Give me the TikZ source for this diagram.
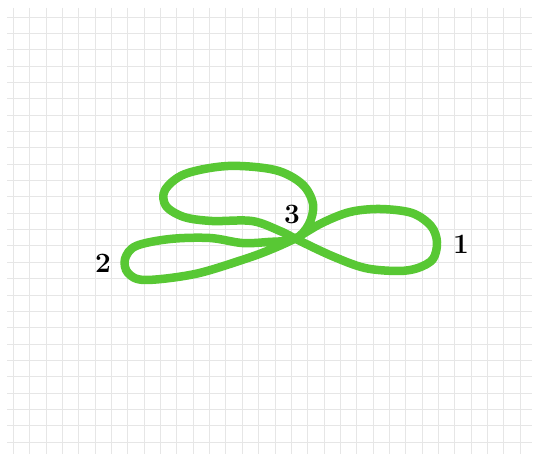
\documentclass[tikz,border=0pt]{standalone}
\usepackage{fontspec}
\definecolor{loopgreen}{RGB}{88,200,52}
\definecolor{gridgray}{RGB}{230,230,230}
\tikzset{
  gridline/.style={draw=gridgray, line width=0.8pt},
  loopline/.style={draw=loopgreen, line width=8.5pt, line cap=round, line join=round},
  lbl/.style={font=\fontsize{28}{28}\selectfont\bfseries, inner sep=0pt}
}
\begin{document}
\begin{tikzpicture}[x=1pt,y=-1pt]
\useasboundingbox (0,0) rectangle (535,454);
\fill[white] (0,0) rectangle (535,454);
% grid
\foreach \i in {0,...,31} {
  \draw[gridline] ({13.3+16.35*\i},8) -- ({13.3+16.35*\i},454);
}
\foreach \j in {0,...,26} {
  \draw[gridline] (7,{17+16.35*\j}) -- (532,{17+16.35*\j});
}
% the curve
\draw[loopline] plot[smooth cycle, tension=0.55] coordinates {
  (296,238) (322,223) (350,212) (380,209) (412,213) (431,226) (437,242)
  (433,259) (418,268) (398,271) (365,268) (332,256) (298,240)
  (280,231) (252,221) (212,221) (184,217) (166,206) (165,190) (185,174)
  (228,166) (275,170) (302,184) (313,204) (309,224)
  (295,239) (268,242) (242,243) (210,238) (170,239) (136,246) (125,259)
  (128,273) (145,280) (195,274) (245,259) (272,249)
};
% labels
\node[lbl] (one) at (461,244) {1};
\node[lbl] (two) at (103,263) {2};
\node[lbl] (three) at (292,214) {3};
\end{tikzpicture}
\end{document}
